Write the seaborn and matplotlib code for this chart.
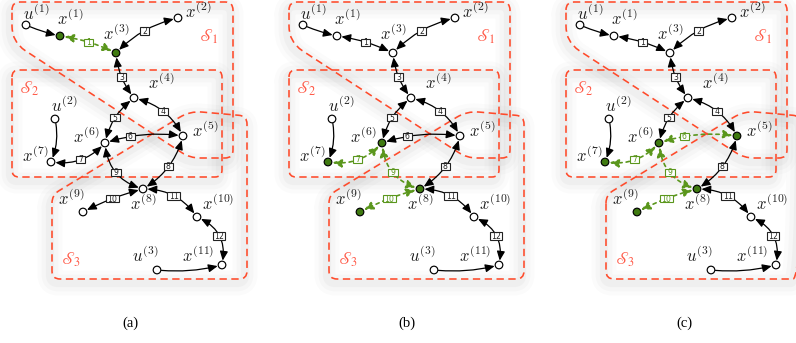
import numpy as np
import pandas as pd
import matplotlib
matplotlib.use("Agg")
import matplotlib.pyplot as plt
import seaborn as sns
from matplotlib.path import Path
from matplotlib.patches import PathPatch, Rectangle, FancyArrowPatch

sns.set_theme(style="white")
plt.rcParams["mathtext.fontset"] = "cm"

# ---------------- data ----------------
node_names = ["u1", "x1", "x2", "x3", "x4", "x5", "x6", "u2", "x7", "x8", "x9", "x10", "x11", "u3"]
node_x = [26, 60, 178, 116, 134, 183, 105, 55, 51, 143, 83, 197, 222, 157]
node_y = [25, 36, 18, 53, 98, 136, 143, 119, 162, 189, 212, 217, 265, 270]
node_tex = [r"$u^{(1)}$", r"$x^{(1)}$", r"$x^{(2)}$", r"$x^{(3)}$", r"$x^{(4)}$", r"$x^{(5)}$",
            r"$x^{(6)}$", r"$u^{(2)}$", r"$x^{(7)}$", r"$x^{(8)}$", r"$x^{(9)}$", r"$x^{(10)}$",
            r"$x^{(11)}$", r"$u^{(3)}$"]
# label anchor (left/center/right, bottom)
lab_x = [23, 57, 185, 116, 148, 192, 99, 64, 48, 143, 84, 202, 214, 158]
lab_y = [24, 29, 22, 44, 93, 141, 147, 116, 166, 214, 209, 214, 266, 266]
lab_ha = ["left", "left", "left", "center", "left", "left", "right", "center", "right",
          "center", "right", "left", "right", "right"]

edge_ids = [1, 2, 3, 4, 5, 6, 7, 8, 9, 10, 11, 12]
edge_src = ["x1", "x3", "x3", "x4", "x4", "x6", "x7", "x5", "x6", "x8", "x8", "x10"]
edge_dst = ["x3", "x2", "x4", "x5", "x6", "x5", "x6", "x8", "x8", "x9", "x10", "x11"]
edge_rad = [-0.08, -0.15, 0.15, -0.23, 0.19, -0.12, 0.26, -0.20, 0.34, 0.06, -0.26, -0.40]
edge_t = [0.5, 0.5, 0.5, 0.5, 0.5, 0.33, 0.5, 0.5, 0.5, 0.5, 0.5, 0.5]

input_src = ["u1", "u2", "u3"]
input_dst = ["x1", "x7", "x11"]
input_rad = [0.05, -0.16, 0.09]

panels = ["(a)", "(b)", "(c)"]
panel_shift = [0, 277, 554]
green_nodes = {"(a)": ["x1", "x3"], "(b)": ["x6", "x7", "x8", "x9"],
               "(c)": ["x5", "x6", "x7", "x8", "x9"]}
green_edges = {"(a)": [1], "(b)": [7, 9, 10], "(c)": [6, 7, 9, 10]}

region_names = [r"$\mathscr{S}_1$", r"$\mathscr{S}_2$", r"$\mathscr{S}_3$"]
region_pts = [
    [(12, 2), (233, 2), (233, 158), (190, 158), (12, 42)],
    [(12, 70), (222, 70), (222, 177), (12, 177)],
    [(52, 195), (190, 111), (247, 116), (247, 279), (52, 279)],
]
region_rad = [[8, 8, 8, 10, 16], [7, 7, 7, 7], [8, 12, 8, 8, 8]]
region_lab = [(199, 46), (19, 98), (61, 269)]

# ---------------- style ----------------
RED = "#ff4a2a"
RED_T = "#ff5a48"
GREEN_N = "#3f7a10"
GREEN_E = "#5a961c"

fig = plt.figure(figsize=(7.96, 3.43), dpi=100)
ax = fig.add_axes([0, 0, 1, 1])

pos = dict(zip(node_names, zip(node_x, node_y)))


def rounded_path(pts, radii, dx):
    pts = [np.array(p, float) + np.array([dx, 0.0]) for p in pts]
    n = len(pts)
    verts, codes = [], []
    for i in range(n):
        p = pts[i]
        pr = pts[i - 1]
        nx = pts[(i + 1) % n]
        r = radii[i]
        v1 = (pr - p) / np.linalg.norm(pr - p)
        v2 = (nx - p) / np.linalg.norm(nx - p)
        a = p + v1 * r
        b = p + v2 * r
        verts.append(a)
        codes.append(Path.MOVETO if i == 0 else Path.LINETO)
        verts += [p, b]
        codes += [Path.CURVE3, Path.CURVE3]
    verts.append(verts[0])
    codes.append(Path.LINETO)
    return Path(np.array(verts), codes)


rows = []
for pi, pn in enumerate(panels):
    sh = panel_shift[pi]
    for nm in node_names:
        rows.append({"panel": pn, "node": nm, "x": pos[nm][0] + sh, "y": pos[nm][1],
                     "state": "fixed" if nm in green_nodes[pn] else "free"})
df = pd.DataFrame(rows)

ARW = "head_length=0.55,head_width=0.24"

for pi, pn in enumerate(panels):
    sh = panel_shift[pi]
    # regions with soft shadow
    for ri in range(3):
        path = rounded_path(region_pts[ri], region_rad[ri], sh)
        spath = Path(path.vertices + np.array([-2.0, 4.0]), path.codes)
        for lw, al in [(18, 0.03), (12, 0.04), (6, 0.05)]:
            ax.add_patch(PathPatch(spath, fc="none", ec="#808080", lw=lw, alpha=al, zorder=0.5,
                                   capstyle="round", joinstyle="round"))
        ax.add_patch(PathPatch(path, fc="none", ec=RED, lw=1.15, ls=(0, (4.6, 2.8)), zorder=1))
        lx, ly = region_lab[ri]
        ax.text(lx + sh, ly, region_names[ri], color=RED_T, fontsize=12.5, ha="left", va="bottom",
                math_fontfamily="stix", zorder=2)

    # input edges
    for s, d, r in zip(input_src, input_dst, input_rad):
        p0 = (pos[s][0] + sh, pos[s][1])
        p1 = (pos[d][0] + sh, pos[d][1])
        ax.add_patch(FancyArrowPatch(p0, p1, connectionstyle=f"arc3,rad={r}",
                                     arrowstyle="-|>," + ARW,
                                     mutation_scale=10, color="black", lw=0.9,
                                     shrinkA=3.2, shrinkB=3.2, zorder=3))

    # numbered edges
    for eid, s, d, r, t in zip(edge_ids, edge_src, edge_dst, edge_rad, edge_t):
        g = eid in green_edges[pn]
        col = GREEN_E if g else "black"
        p0 = np.array([pos[s][0] + sh, pos[s][1]], float)
        p2 = np.array([pos[d][0] + sh, pos[d][1]], float)
        ax.add_patch(FancyArrowPatch(tuple(p0), tuple(p2), connectionstyle=f"arc3,rad={r}",
                                     arrowstyle="<|-|>," + ARW,
                                     mutation_scale=10, color=col, lw=1.2 if g else 0.9,
                                     ls=(0, (2.0, 2.4)) if g else "-",
                                     shrinkA=3.2, shrinkB=3.2, zorder=3))
        m = (p0 + p2) / 2
        dxy = p2 - p0
        c = m + r * np.array([-dxy[1], dxy[0]])
        lp = (1 - t) ** 2 * p0 + 2 * t * (1 - t) * c + t ** 2 * p2
        w = 12.5 if eid >= 10 else 9.5
        h = 7.5
        ax.add_patch(Rectangle((lp[0] - w / 2, lp[1] - h / 2), w, h, fc="white",
                               ec=GREEN_E if g else "#222222", lw=0.8, zorder=4))
        ax.text(lp[0], lp[1] + 0.4, str(eid), fontsize=5.6, ha="center", va="center",
                color=GREEN_E if g else "#222222", family="DejaVu Sans", zorder=4.5)

    # node labels
    for nm, tx, lx, ly, ha in zip(node_names, node_tex, lab_x, lab_y, lab_ha):
        ax.text(lx + sh, ly, tx, fontsize=12, ha=ha, va="bottom", color="#222222", zorder=4)

    ax.text(130 + sh, 323, pn, fontsize=10.5, ha="center", va="center",
            family="Liberation Serif", color="black")

sns.scatterplot(data=df, x="x", y="y", hue="state",
                palette={"free": "white", "fixed": GREEN_N},
                edgecolor="black", linewidth=0.85, s=30, legend=False, zorder=5, ax=ax)

ax.set_xlim(0, 796)
ax.set_ylim(343, 0)
ax.set_aspect("auto")
ax.axis("off")
fig.savefig("out.png", dpi=100)
